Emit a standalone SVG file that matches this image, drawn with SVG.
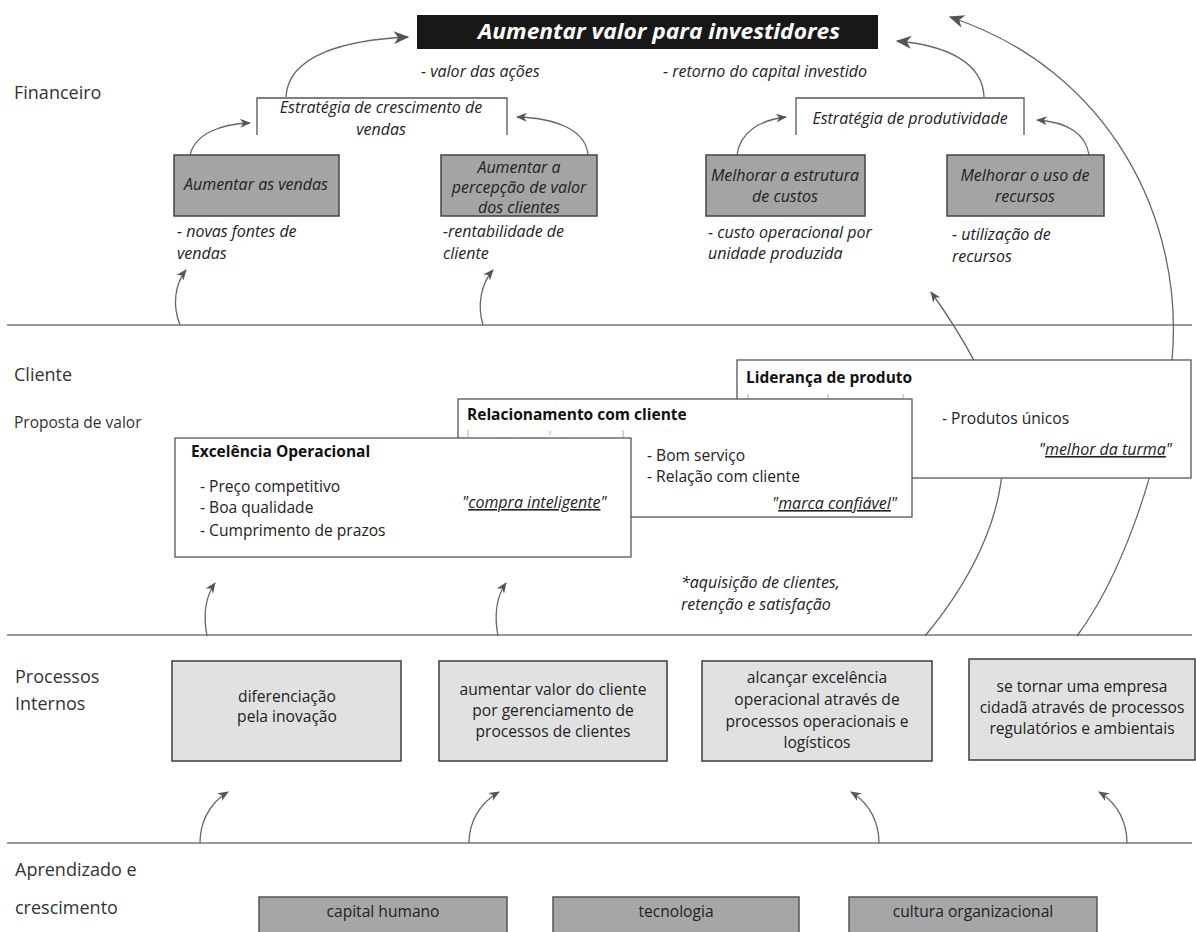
<svg xmlns="http://www.w3.org/2000/svg" width="1196" height="932" viewBox="0 0 1196 932">
<style>
text{font-family:"Open Sans","Noto Sans","Liberation Sans",sans-serif;fill:#222}
.sec{font-size:18px;fill:#333}
.sub{font-size:15.5px;fill:#333}
.it{font-style:italic;font-size:16px}
.bi{font-style:italic;font-size:16px}
.b{font-weight:bold;font-size:15.5px;fill:#111}
.t{font-size:15.6px}
.c{text-anchor:middle}
.e{text-anchor:end}
.u{text-decoration:underline}
.fin{fill:#a4a4a4;stroke:#444;stroke-width:1.5}
.prc{fill:#e1e1e1;stroke:#3c3c3c;stroke-width:1.5}
.apr{fill:#a6a6a6;stroke:#555;stroke-width:1.5}
.cli{fill:#fff;stroke:#555;stroke-width:1.3}
.strat{fill:none;stroke:#555;stroke-width:1.3}
.hl{stroke:#777;stroke-width:1.6;fill:none}
.cn{fill:none;stroke:#666;stroke-width:1.3}
.tick{stroke:#999;stroke-width:0.8}
</style>
<defs>
<marker id="aL" viewBox="0 0 12 10" refX="11" refY="5" markerWidth="19" markerHeight="13" orient="auto" markerUnits="userSpaceOnUse"><path d="M0,0 L12,5 L0,10 L3.5,5 Z" fill="#555"/></marker>
<marker id="aS" viewBox="0 0 12 10" refX="11" refY="5" markerWidth="13" markerHeight="9" orient="auto" markerUnits="userSpaceOnUse"><path d="M0,0 L12,5 L0,10 L3.5,5 Z" fill="#555"/></marker>
</defs>
<rect width="1196" height="932" fill="#fff"/>

<g id="lanes">
<line class="hl" x1="7" y1="325" x2="1192" y2="325"/>
<line class="hl" x1="7" y1="635" x2="1192" y2="635"/>
<line class="hl" x1="7" y1="843" x2="1192" y2="843"/>
<text class="sec" x="14" y="99">Financeiro</text>
<text class="sec" x="14" y="381">Cliente</text>
<text class="sub" x="14" y="428">Proposta de valor</text>
<text class="sec" x="15" y="683">Processos</text>
<text class="sec" x="15" y="710">Internos</text>
<text class="sec" x="15" y="876">Aprendizado e</text>
<text class="sec" x="15" y="914">crescimento</text>
</g>

<g id="connectors">
<path class="cn" d="M286,97 C288,55 345,40 408,37" marker-end="url(#aL)"/>
<path class="cn" d="M984,97 C983,62 945,45 897,41" marker-end="url(#aL)"/>
<path class="cn" d="M190,155 C195,134 220,124 250,123" marker-end="url(#aS)"/>
<path class="cn" d="M588,155 C586,130 556,118 517,117" marker-end="url(#aS)"/>
<path class="cn" d="M737,155 C740,132 760,120 786,117" marker-end="url(#aS)"/>
<path class="cn" d="M1089,155 C1086,133 1066,122 1037,120" marker-end="url(#aS)"/>
<path class="cn" d="M180,325 C172,305 175,284 186,270" marker-end="url(#aS)"/>
<path class="cn" d="M483,325 C477,305 481,284 493,270" marker-end="url(#aS)"/>
<path class="cn" d="M925,636 C980,570 1008,500 1002,440 C999,395 957,328 931,292" marker-end="url(#aS)"/>
<path class="cn" d="M1077,636 C1115,585 1160,480 1172,360 C1185,220 1110,70 950,17" marker-end="url(#aL)"/>
<path class="cn" d="M207,636 C203,615 206,596 215,583" marker-end="url(#aS)"/>
<path class="cn" d="M498,636 C494,615 497,596 506,583" marker-end="url(#aS)"/>
<path class="cn" d="M200,843 C200,824 208,804 228,792" marker-end="url(#aS)"/>
<path class="cn" d="M469,843 C469,824 478,804 499,792" marker-end="url(#aS)"/>
<path class="cn" d="M879,843 C879,824 871,804 851,792" marker-end="url(#aS)"/>
<path class="cn" d="M1127,843 C1127,824 1119,804 1099,792" marker-end="url(#aS)"/>
</g>

<g id="goal">
<rect x="417" y="15" width="461" height="34" fill="#181818"/>
<text x="659" y="39" class="c" style="font-weight:bold;font-style:italic;font-size:21px;fill:#fff" textLength="362" lengthAdjust="spacingAndGlyphs">Aumentar valor para investidores</text>
<text class="it" x="421" y="77">- valor das ações</text>
<text class="it" x="663" y="77">- retorno do capital investido</text>
</g>

<g id="strat-crescimento">
<path class="strat" d="M257,135 V98 H507 V135"/>
<text class="it c" x="381" y="113">Estratégia de crescimento de</text>
<text class="it c" x="381" y="135">vendas</text>
</g>
<g id="strat-produtividade">
<path class="strat" d="M796,135 V98 H1024 V135"/>
<text class="it c" x="910" y="124">Estratégia de produtividade</text>
</g>

<g id="fin-vendas">
<rect class="fin" x="174" y="155" width="165" height="61"/>
<text class="bi c" x="256" y="190">Aumentar as vendas</text>
<text class="it" x="177" y="237">- novas fontes de</text>
<text class="it" x="177" y="259">vendas</text>
</g>
<g id="fin-percepcao">
<rect class="fin" x="441" y="155" width="156" height="61"/>
<text class="bi c" x="519" y="173">Aumentar a</text>
<text class="bi c" x="519" y="193">percepção de valor</text>
<text class="bi c" x="519" y="213">dos clientes</text>
<text class="it" x="443" y="237">-rentabilidade de</text>
<text class="it" x="443" y="259">cliente</text>
</g>
<g id="fin-custos">
<rect class="fin" x="706" y="155" width="159" height="61"/>
<text class="bi c" x="785" y="181">Melhorar a estrutura</text>
<text class="bi c" x="785" y="202">de custos</text>
<text class="it" x="708" y="238">- custo operacional por</text>
<text class="it" x="708" y="259">unidade produzida</text>
</g>
<g id="fin-recursos">
<rect class="fin" x="947" y="155" width="157" height="61"/>
<text class="bi c" x="1025" y="181">Melhorar o uso de</text>
<text class="bi c" x="1025" y="202">recursos</text>
<text class="it" x="952" y="240">- utilização de</text>
<text class="it" x="952" y="262">recursos</text>
</g>

<g id="cli-lideranca">
<rect class="cli" x="737" y="360" width="454" height="118"/>
<text class="b" x="746" y="383">Liderança de produto</text>
<line class="tick" x1="748" y1="394" x2="748" y2="400"/>
<line class="tick" x1="828" y1="394" x2="828" y2="400"/>
<line class="tick" x1="903" y1="394" x2="903" y2="400"/>
<text class="t" x="942" y="424">- Produtos únicos</text>
<text class="bi e" x="1172" y="455">"<tspan class="u">melhor da turma</tspan>"</text>
</g>
<g id="cli-relacionamento">
<rect class="cli" x="458" y="399" width="454" height="118"/>
<text class="b" x="467" y="420">Relacionamento com cliente</text>
<line class="tick" x1="468" y1="430" x2="468" y2="438"/>
<line class="tick" x1="550" y1="431" x2="550" y2="435"/>
<line class="tick" x1="623" y1="430" x2="623" y2="438"/>
<text class="t" x="647" y="461">- Bom serviço</text>
<text class="t" x="647" y="482">- Relação com cliente</text>
<text class="bi e" x="897" y="509">"<tspan class="u">marca confiável</tspan>"</text>
</g>
<g id="cli-excelencia">
<rect class="cli" x="175" y="438" width="456" height="119"/>
<text class="b" x="191" y="457">Excelência Operacional</text>
<text class="t" x="200" y="492">- Preço competitivo</text>
<text class="t" x="200" y="513">- Boa qualidade</text>
<text class="t" x="200" y="536">- Cumprimento de prazos</text>
<text class="bi" x="462" y="508">"<tspan class="u">compra inteligente</tspan>"</text>
</g>
<g id="cli-nota">
<text class="it" x="681" y="588">*aquisição de clientes,</text>
<text class="it" x="681" y="610">retenção e satisfação</text>
</g>

<g id="prc-inovacao">
<rect class="prc" x="172" y="661" width="229" height="100"/>
<text class="t c" x="287" y="702">diferenciação</text>
<text class="t c" x="287" y="722">pela inovação</text>
</g>
<g id="prc-clientes">
<rect class="prc" x="439" y="661" width="228" height="100"/>
<text class="t c" x="553" y="695">aumentar valor do cliente</text>
<text class="t c" x="553" y="716">por gerenciamento de</text>
<text class="t c" x="553" y="737">processos de clientes</text>
</g>
<g id="prc-operacional">
<rect class="prc" x="702" y="661" width="230" height="100"/>
<text class="t c" x="817" y="683">alcançar excelência</text>
<text class="t c" x="817" y="705">operacional através de</text>
<text class="t c" x="817" y="727">processos operacionais e</text>
<text class="t c" x="817" y="748">logísticos</text>
</g>
<g id="prc-cidada">
<rect class="prc" x="969" y="659" width="226" height="101"/>
<text class="t c" x="1082" y="692">se tornar uma empresa</text>
<text class="t c" x="1082" y="713">cidadã através de processos</text>
<text class="t c" x="1082" y="734">regulatórios e ambientais</text>
</g>

<g id="apr-humano">
<rect class="apr" x="259" y="897" width="248" height="45"/>
<text class="t c" x="383" y="917">capital humano</text>
</g>
<g id="apr-tecnologia">
<rect class="apr" x="553" y="897" width="246" height="45"/>
<text class="t c" x="676" y="917">tecnologia</text>
</g>
<g id="apr-cultura">
<rect class="apr" x="849" y="897" width="248" height="45"/>
<text class="t c" x="973" y="917">cultura organizacional</text>
</g>
</svg>
